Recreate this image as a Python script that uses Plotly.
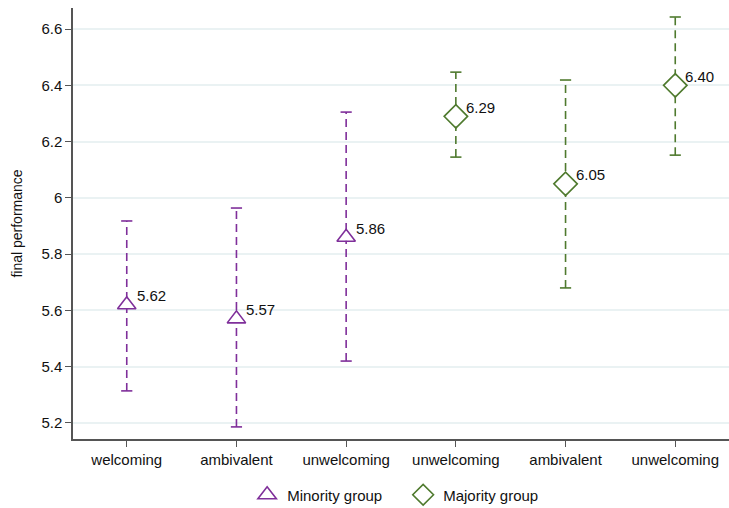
import plotly.graph_objects as go

categories = ["welcoming", "ambivalent", "unwelcoming", "unwelcoming", "ambivalent", "unwelcoming"]
minority_mean = [5.62, 5.57, 5.86]
minority_lo = [5.314, 5.186, 5.420]
minority_hi = [5.918, 5.964, 6.305]
majority_mean = [6.29, 6.05, 6.40]
majority_lo = [6.145, 5.680, 6.152]
majority_hi = [6.447, 6.419, 6.643]

PURPLE = "#7f2f9a"
GREEN = "#4f7a2e"
FONT = "Liberation Sans, Arial, sans-serif"

fig = go.Figure()

groups = [
    ("Minority group", [0, 1, 2], minority_mean, minority_lo, minority_hi, PURPLE, "triangle-up-open", 16),
    ("Majority group", [3, 4, 5], majority_mean, majority_lo, majority_hi, GREEN, "diamond-open", 18),
]

for name, xs, mean, lo, hi, col, sym, size in groups:
    lx, ly = [], []
    for x, l, h in zip(xs, lo, hi):
        lx += [x, x, None]
        ly += [l, h, None]
    fig.add_trace(go.Scatter(x=lx, y=ly, mode="lines", showlegend=False, hoverinfo="skip",
                             line=dict(color=col, width=1.6, dash="8px,5px")))
    fig.add_trace(go.Scatter(x=xs + xs, y=lo + hi, mode="markers", showlegend=False, hoverinfo="skip",
                             marker=dict(symbol="line-ew-open", size=8, color=col,
                                         line=dict(color=col, width=1.6))))
    fig.add_trace(go.Scatter(x=xs, y=mean, mode="markers", showlegend=False, hoverinfo="skip",
                             marker=dict(symbol=sym.replace("-open", ""), size=size - 2, color="white",
                                         line=dict(width=0))))
    fig.add_trace(go.Scatter(x=xs, y=mean, mode="markers", name=name,
                             marker=dict(symbol=sym, size=size, color=col,
                                         line=dict(color=col, width=1.6))))
    for x, m in zip(xs, mean):
        fig.add_annotation(x=x, y=m, text=f"{m:.2f}", showarrow=False, xanchor="left", yanchor="middle",
                           xshift=8, yshift=9, font=dict(family=FONT, size=15, color="#111"))

fig.update_layout(
    width=729, height=508,
    margin=dict(l=73, r=0, t=8, b=69),
    plot_bgcolor="white", paper_bgcolor="white",
    font=dict(family=FONT, size=15, color="#111"),
    legend=dict(orientation="h", x=0.553, xanchor="center", xref="container",
                y=0.058, yanchor="top", yref="container",
                font=dict(family=FONT, size=15), itemwidth=30, tracegroupgap=0,
                entrywidth=111, entrywidthmode="pixels"),
    xaxis=dict(range=[-0.49, 5.49], tickmode="array", tickvals=list(range(6)), ticktext=categories,
               showgrid=False, zeroline=False, showline=True, linecolor="#555", linewidth=1.5,
               ticks="outside", ticklen=6, tickcolor="#555", tickfont=dict(size=15), automargin=False),
    yaxis=dict(range=[5.143, 6.675], tick0=5.2, dtick=0.2, showgrid=True, gridcolor="#eaf2f3",
               gridwidth=1.5, zeroline=False, showline=True, linecolor="#555", linewidth=1.5,
               ticks="outside", ticklen=6, tickcolor="#555", tickfont=dict(size=15), automargin=False,
               title=dict(text="final performance", font=dict(size=14), standoff=15)),
)

fig.write_html("out.html", config={"displayModeBar": False},
               post_script="document.body.style.margin='0';")
